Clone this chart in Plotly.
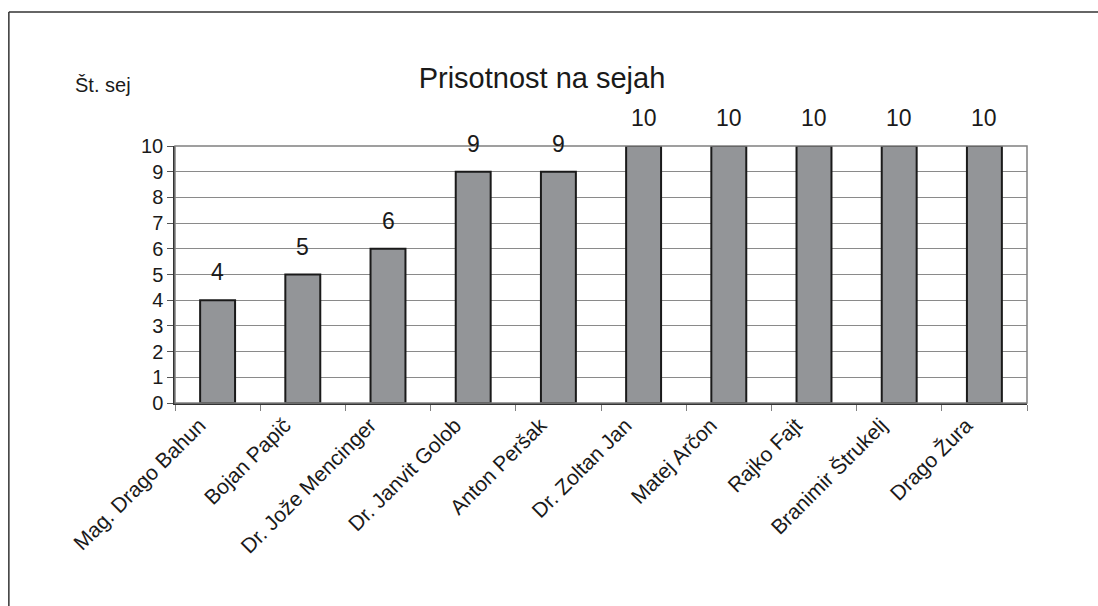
import plotly.graph_objects as go

names = ["Mag. Drago Bahun", "Bojan Papič", "Dr. Jože Mencinger", "Dr. Janvit Golob",
         "Anton Peršak", "Dr. Zoltan Jan", "Matej Arčon", "Rajko Fajt",
         "Branimir Štrukelj", "Drago Žura"]
sessions = [4, 5, 6, 9, 9, 10, 10, 10, 10, 10]
y_ticks = list(range(0, 11))

font = "Liberation Sans, Arial, sans-serif"

fig = go.Figure()
fig.add_trace(go.Bar(
    x=names, y=sessions, width=0.41,
    marker=dict(color="#939598", line=dict(color="#1a1a1a", width=2)),
    showlegend=False, hoverinfo="skip",
))

# value labels above the bars
for n, v in zip(names, sessions):
    fig.add_annotation(x=n, y=v, text=str(v), showarrow=False, yshift=28,
                       yanchor="middle", font=dict(family=font, size=23, color="#1a1a1a"))

fig.add_annotation(xref="paper", yref="paper", x=-0.12, y=1.237, text="Št. sej",
                   showarrow=False, xanchor="left", yanchor="middle",
                   font=dict(family=font, size=20, color="#1a1a1a"))

# plot area border and outer frame
fig.add_shape(type="rect", xref="paper", yref="paper", x0=0, x1=1, y0=0, y1=1,
              line=dict(color="#808080", width=1.5), layer="above")
fig.add_shape(type="line", xref="paper", yref="paper", x0=-0.195, x1=1.2, y0=1.521, y1=1.521,
              line=dict(color="#333333", width=1.5))
fig.add_shape(type="line", xref="paper", yref="paper", x0=-0.195, x1=-0.195, y0=1.521, y1=-1.0,
              line=dict(color="#333333", width=1.5))

fig.update_layout(
    width=1098, height=606,
    margin=dict(l=175, r=71, t=146, b=203),
    paper_bgcolor="white", plot_bgcolor="white",
    title=dict(text="Prisotnost na sejah", x=0.4936, xanchor="center",
               y=0.871, yanchor="middle",
               font=dict(family=font, size=29, color="#1a1a1a")),
    font=dict(family=font, color="#1a1a1a"),
    xaxis=dict(tickangle=-45, tickson="boundaries", ticks="outside", ticklen=6,
               tickcolor="#808080", showline=True, linecolor="#333333", linewidth=1.5,
               tickfont=dict(size=21), showgrid=False, range=[-0.5, 9.5],
               ticklabelshift=-18),
    yaxis=dict(range=[0, 10], tickvals=y_ticks, ticks="outside", ticklen=6,
               tickcolor="#555555", showline=True, linecolor="#333333", linewidth=1.5,
               showgrid=True, gridcolor="#8a8a8a", gridwidth=1,
               tickfont=dict(size=20), zeroline=False),
    bargap=0.59,
)

fig.write_html("out.html", config={"displayModeBar": False},
               post_script="document.body.style.margin='0';")
